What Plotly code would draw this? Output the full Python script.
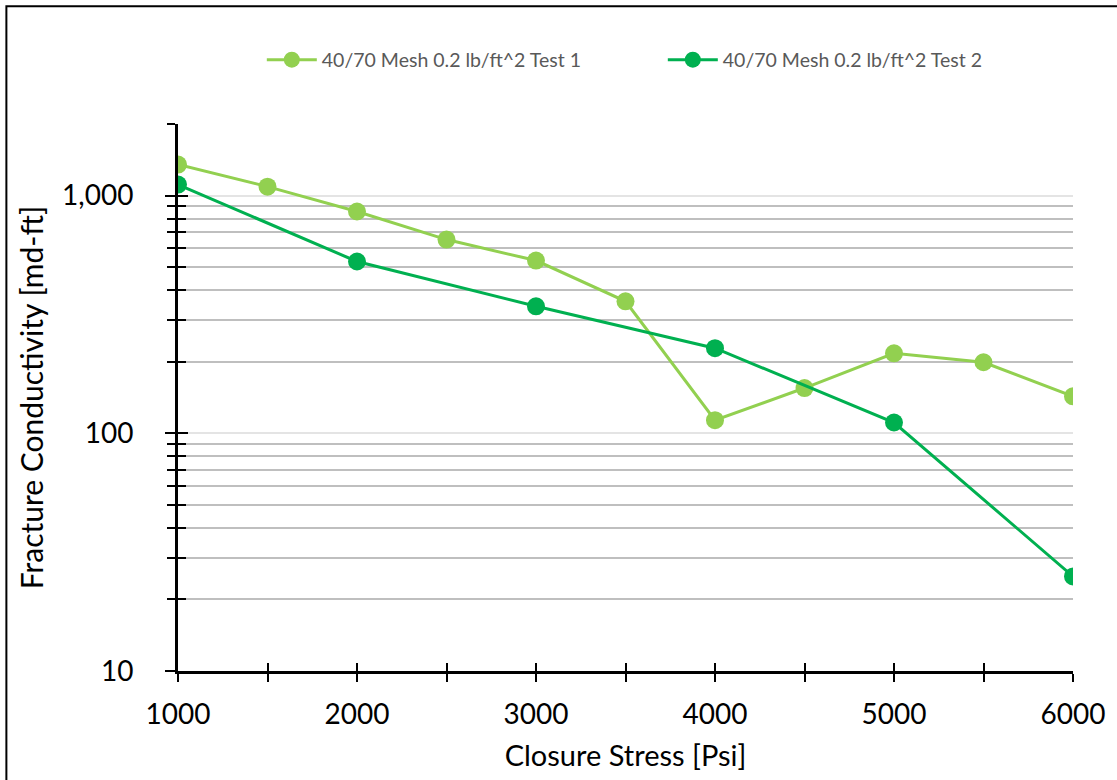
import plotly.graph_objects as go

stress_1 = [1000, 1500, 2000, 2500, 3000, 3500, 4000, 4500, 5000, 5500, 6000]
cond_1 = [1350, 1090, 857, 653, 533, 359, 113.5, 155, 217, 199, 143]
stress_2 = [1000, 2000, 3000, 4000, 5000, 6000]
cond_2 = [1112, 528, 342, 228, 111, 25]
name_1 = "40/70 Mesh 0.2 lb/ft^2 Test 1"
name_2 = "40/70 Mesh 0.2 lb/ft^2 Test 2"
y_major = [10, 100, 1000]
y_major_text = ["10", "100", "1,000"]
y_minor = [20, 30, 40, 50, 60, 70, 80, 90, 200, 300, 400, 500, 600, 700, 800, 900, 2000]
x_ticks = [1000, 2000, 3000, 4000, 5000, 6000]

FONT = "Lato, 'Open Sans', sans-serif"
c1 = "#92d050"
c2 = "#00b050"

fig = go.Figure()
fig.add_trace(go.Scatter(x=stress_1, y=cond_1, name=name_1, mode="lines+markers",
                         line=dict(color=c1, width=3), marker=dict(color=c1, size=18)))
fig.add_trace(go.Scatter(x=stress_2, y=cond_2, name=name_2, mode="lines+markers",
                         line=dict(color=c2, width=3), marker=dict(color=c2, size=18)))
fig.add_trace(go.Scatter(x=[], y=[], xaxis="x2", yaxis="y2", showlegend=False, hoverinfo="skip"))

yr = [1, 3.30103]
xr = [1000, 6000]

fig.update_layout(
    width=1117, height=780,
    margin=dict(l=178, r=42, t=124, b=108),
    paper_bgcolor="white", plot_bgcolor="white",
    font=dict(family=FONT, color="black"),
    showlegend=True,
    legend=dict(orientation="h", x=(262 - 178) / 897, xanchor="left", y=1.117, yanchor="middle",
                font=dict(size=19.5, color="#595959"), entrywidth=336, itemwidth=50),
    xaxis=dict(range=xr, tickvals=x_ticks, showgrid=False, zeroline=False,
               showline=True, linecolor="black", linewidth=3,
               ticks="outside", ticklen=8, tickwidth=2, tickcolor="black",
               minor=dict(dtick=500, ticks="outside", ticklen=8, tickwidth=2, tickcolor="black", showgrid=False),
               tickfont=dict(size=28), ticklabelstandoff=8,
               title=dict(text="Closure Stress [Psi]", font=dict(size=29), standoff=18)),
    yaxis=dict(type="log", range=yr, tickmode="array", tickvals=y_major, ticktext=y_major_text,
               showgrid=True, gridcolor="#e4e4e4", gridwidth=1.5, zeroline=False,
               showline=True, linecolor="black", linewidth=3,
               ticks="outside", ticklen=10, tickwidth=2, tickcolor="black",
               minor=dict(tickmode="array", tickvals=y_minor, ticks="outside", ticklen=8, tickwidth=2,
                          tickcolor="black", showgrid=True, gridcolor="#bfbfbf", gridwidth=1.5),
               tickfont=dict(size=28), ticklabelstandoff=26,
               title=dict(text="Fracture Conductivity [md-ft]", font=dict(size=30), standoff=10)),
    xaxis2=dict(overlaying="x", anchor="y2", side="bottom", range=xr, tickvals=x_ticks,
                showticklabels=False, showgrid=False, zeroline=False, showline=False,
                ticks="inside", ticklen=8, tickwidth=2, tickcolor="black",
                minor=dict(dtick=500, ticks="inside", ticklen=8, tickwidth=2, tickcolor="black", showgrid=False)),
    yaxis2=dict(overlaying="y", anchor="x2", side="left", type="log", range=yr,
                tickmode="array", tickvals=y_major, showticklabels=False, showgrid=False,
                zeroline=False, showline=False,
                ticks="inside", ticklen=10, tickwidth=2, tickcolor="black",
                minor=dict(tickmode="array", tickvals=y_minor, ticks="inside", ticklen=8, tickwidth=2,
                           tickcolor="black", showgrid=False)),
    shapes=[dict(type="rect", xref="paper", yref="paper",
                 x0=(6 - 178) / 897, x1=(1125 - 178) / 897,
                 y0=(672 - 790) / 548, y1=(672 - 6) / 548,
                 line=dict(color="black", width=2), fillcolor="rgba(0,0,0,0)", layer="above")],
)

fig.write_html("out.html")
